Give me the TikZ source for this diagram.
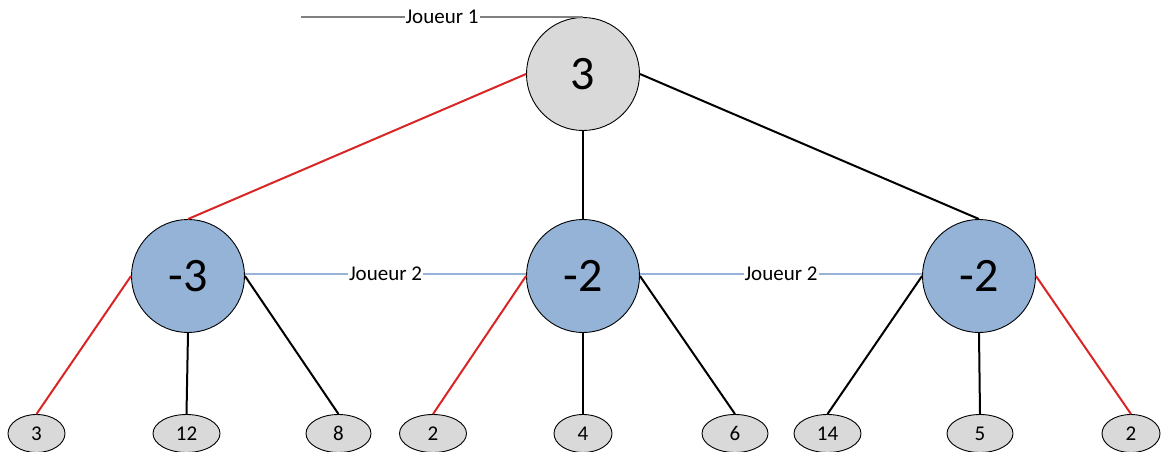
\documentclass[tikz,border=0pt]{standalone}
\usepackage{fontspec}
\setmainfont{Carlito}
\usetikzlibrary{shapes.geometric}
\definecolor{nodegray}{RGB}{217,217,217}
\definecolor{nodeblue}{RGB}{149,179,215}
\definecolor{edgered}{RGB}{218,37,37}
\definecolor{linegray}{RGB}{128,128,128}
\definecolor{lineblue}{RGB}{149,179,215}
\tikzset{
  bignode/.style={circle,draw=black,line width=0.9pt,inner sep=0pt,minimum size=113pt,font=\fontsize{48}{52}\selectfont},
  rootnode/.style={bignode,fill=nodegray},
  minnode/.style={bignode,fill=nodeblue},
  leafnode/.style={ellipse,draw=black,line width=0.9pt,fill=nodegray,inner sep=0pt,minimum height=38pt,font=\fontsize{21}{23}\selectfont},
  blackedge/.style={draw=black,line width=2pt},
  rededge/.style={draw=edgered,line width=2pt},
  playerline/.style={line width=2pt},
  playerlabel/.style={fill=white,inner sep=1pt,font=\fontsize{21}{23}\selectfont,text=black}
}
\begin{document}
\begin{tikzpicture}[x=1pt,y=-1pt]
\useasboundingbox (0,0) rectangle (1162,452);
% nodes
\node[rootnode] (r) at (583,74) {3};
\node[minnode] (a) at (188,276) {-3};
\node[minnode] (b) at (583,276) {-2};
\node[minnode] (c) at (979,276) {-2};
\node[leafnode,minimum width=57pt] (a1) at (36.5,433.5) {3};
\node[leafnode,minimum width=67pt] (a2) at (186.5,433.5) {12};
\node[leafnode,minimum width=65pt] (a3) at (338.5,433.5) {8};
\node[leafnode,minimum width=67pt] (b1) at (433,433.5) {2};
\node[leafnode,minimum width=58pt] (b2) at (583,433.5) {4};
\node[leafnode,minimum width=66pt] (b3) at (735,433.5) {6};
\node[leafnode,minimum width=67pt] (c1) at (827.5,433.5) {14};
\node[leafnode,minimum width=66pt] (c2) at (980,433.5) {5};
\node[leafnode,minimum width=58pt] (c3) at (1131,433.5) {2};
\coordinate (j1) at ([xshift=-282pt]r.north);
% edges
\draw[rededge] (r.west) -- (a.north);
\draw[blackedge] (r.south) -- (b.north);
\draw[blackedge] (r.east) -- (c.north);
\draw[rededge] (a.west) -- (a1.north);
\draw[blackedge] (a.south) -- (a2.north);
\draw[blackedge] (a.east) -- (a3.north);
\draw[rededge] (b.west) -- (b1.north);
\draw[blackedge] (b.south) -- (b2.north);
\draw[blackedge] (b.east) -- (b3.north);
\draw[blackedge] (c.west) -- (c1.north);
\draw[blackedge] (c.south) -- (c2.north);
\draw[rededge] (c.east) -- (c3.north);
% player lines
\draw[playerline,draw=linegray] (j1) -- node[playerlabel] (l1) {Joueur 1} (r.north);
\draw[playerline,draw=lineblue] ([yshift=2pt]a.east) -- node[playerlabel] (l2) {Joueur 2} ([yshift=2pt]b.west);
\draw[playerline,draw=lineblue] ([yshift=2pt]b.east) -- node[playerlabel] (l3) {Joueur 2} ([yshift=2pt]c.west);
\end{tikzpicture}
\end{document}
